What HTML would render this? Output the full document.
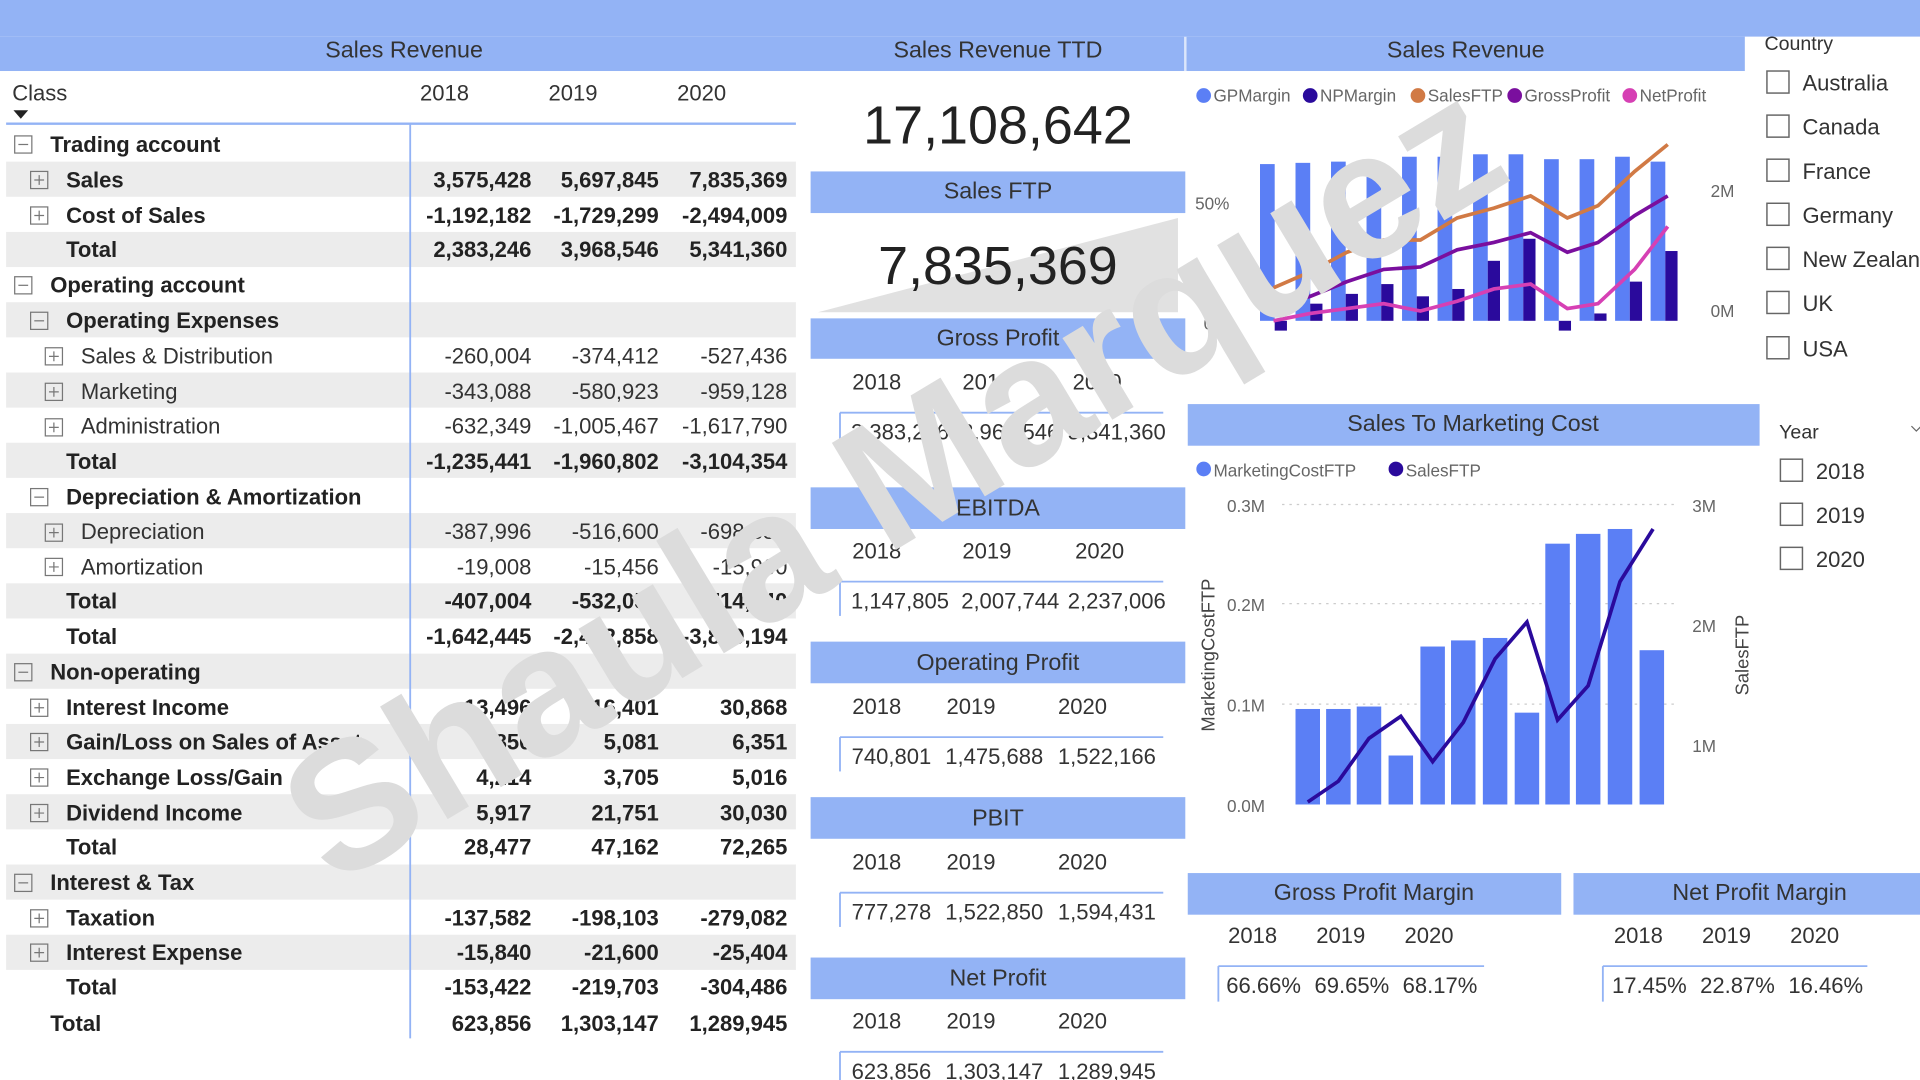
<!DOCTYPE html>
<html><head><meta charset="utf-8"><style>
html,body{margin:0;padding:0;background:#fff;overflow:hidden}
svg{display:block}
text{font-family:"Liberation Sans",sans-serif}
</style></head><body>
<svg width="1920" height="1080" viewBox="0 0 1568 882" xmlns="http://www.w3.org/2000/svg">
<rect width="1568" height="882" fill="#fff"/>
<rect x="0" y="0" width="1568" height="30" fill="#93b3f5"/>
<rect x="0" y="30" width="1425" height="28" fill="#93b3f5"/>
<rect x="1425" y="30" width="143" height="852" fill="#fff"/>
<line x1="968" y1="30" x2="968" y2="58" stroke="#dce6fb" stroke-width="2"/>
<g font-size="19" fill="#333" text-anchor="middle">
<text x="330" y="47">Sales Revenue</text>
<text x="815" y="47">Sales Revenue TTD</text>
<text x="1197" y="47">Sales Revenue</text>
</g>

<g font-size="18" fill="#333">
<text x="10" y="82">Class</text>
<text x="363" y="82" text-anchor="middle">2018</text>
<text x="468" y="82" text-anchor="middle">2019</text>
<text x="573" y="82" text-anchor="middle">2020</text>
</g>
<path d="M11 90 h12 l-6 7z" fill="#222"/>
<line x1="5" y1="101" x2="650" y2="101" stroke="#93b3f5" stroke-width="2"/>
<g fill="#ececec">
<rect x="5" y="132" width="645" height="28.7"/>
<rect x="5" y="189.4" width="645" height="28.7"/>
<rect x="5" y="246.8" width="645" height="28.7"/>
<rect x="5" y="304.2" width="645" height="28.7"/>
<rect x="5" y="361.6" width="645" height="28.7"/>
<rect x="5" y="419" width="645" height="28.7"/>
<rect x="5" y="476.4" width="645" height="28.7"/>
<rect x="5" y="533.8" width="645" height="28.7"/>
<rect x="5" y="591.2" width="645" height="28.7"/>
<rect x="5" y="648.6" width="645" height="28.7"/>
<rect x="5" y="706" width="645" height="28.7"/>
<rect x="5" y="763.4" width="645" height="28.7"/>
</g>
<line x1="335" y1="101" x2="335" y2="848" stroke="#93b3f5" stroke-width="1.5"/>
<g fill="none" stroke="#777" stroke-width="1">
<rect x="12" y="111" width="14" height="14"/><path d="M15 118h8"/>
<rect x="25" y="140" width="14" height="14"/><path d="M28 147h8M32 143v8"/>
<rect x="25" y="169" width="14" height="14"/><path d="M28 176h8M32 172v8"/>
<rect x="12" y="226" width="14" height="14"/><path d="M15 233h8"/>
<rect x="25" y="255" width="14" height="14"/><path d="M28 262h8"/>
<rect x="37" y="284" width="14" height="14"/><path d="M40 291h8M44 287v8"/>
<rect x="37" y="313" width="14" height="14"/><path d="M40 320h8M44 316v8"/>
<rect x="37" y="342" width="14" height="14"/><path d="M40 349h8M44 345v8"/>
<rect x="25" y="399" width="14" height="14"/><path d="M28 406h8"/>
<rect x="37" y="428" width="14" height="14"/><path d="M40 435h8M44 431v8"/>
<rect x="37" y="456" width="14" height="14"/><path d="M40 463h8M44 459v8"/>
<rect x="12" y="542" width="14" height="14"/><path d="M15 549h8"/>
<rect x="25" y="571" width="14" height="14"/><path d="M28 578h8M32 574v8"/>
<rect x="25" y="599" width="14" height="14"/><path d="M28 606h8M32 602v8"/>
<rect x="25" y="628" width="14" height="14"/><path d="M28 635h8M32 631v8"/>
<rect x="25" y="657" width="14" height="14"/><path d="M28 664h8M32 660v8"/>
<rect x="12" y="714" width="14" height="14"/><path d="M15 721h8"/>
<rect x="25" y="743" width="14" height="14"/><path d="M28 750h8M32 746v8"/>
<rect x="25" y="771" width="14" height="14"/><path d="M28 778h8M32 774v8"/>
</g>
<g font-size="18" fill="#222" font-weight="bold">
<text x="41" y="124">Trading account</text>
<text x="54" y="153">Sales</text>
<text x="54" y="182">Cost of Sales</text>
<text x="54" y="210">Total</text>
<text x="41" y="239">Operating account</text>
<text x="54" y="268">Operating Expenses</text>
<text x="54" y="383">Total</text>
<text x="54" y="412">Depreciation &amp; Amortization</text>
<text x="54" y="497">Total</text>
<text x="54" y="526">Total</text>
<text x="41" y="555">Non-operating</text>
<text x="54" y="584">Interest Income</text>
<text x="54" y="612">Gain/Loss on Sales of Asset</text>
<text x="54" y="641">Exchange Loss/Gain</text>
<text x="54" y="670">Dividend Income</text>
<text x="54" y="698">Total</text>
<text x="41" y="727">Interest &amp; Tax</text>
<text x="54" y="756">Taxation</text>
<text x="54" y="784">Interest Expense</text>
<text x="54" y="812">Total</text>
<text x="41" y="842">Total</text>
</g>
<g font-size="18" fill="#333">
<text x="66" y="297">Sales &amp; Distribution</text>
<text x="66" y="326">Marketing</text>
<text x="66" y="354">Administration</text>
<text x="66" y="440">Depreciation</text>
<text x="66" y="469">Amortization</text>
</g>
<g font-size="18" fill="#222" font-weight="bold" text-anchor="end">
<text x="434" y="153">3,575,428</text><text x="538" y="153">5,697,845</text><text x="643" y="153">7,835,369</text>
<text x="434" y="182">-1,192,182</text><text x="538" y="182">-1,729,299</text><text x="643" y="182">-2,494,009</text>
<text x="434" y="210">2,383,246</text><text x="538" y="210">3,968,546</text><text x="643" y="210">5,341,360</text>
<text x="434" y="383">-1,235,441</text><text x="538" y="383">-1,960,802</text><text x="643" y="383">-3,104,354</text>
<text x="434" y="497">-407,004</text><text x="538" y="497">-532,056</text><text x="643" y="497">-714,840</text>
<text x="434" y="526">-1,642,445</text><text x="538" y="526">-2,492,858</text><text x="643" y="526">-3,819,194</text>
<text x="434" y="584">13,496</text><text x="538" y="584">16,401</text><text x="643" y="584">30,868</text>
<text x="434" y="612">4,850</text><text x="538" y="612">5,081</text><text x="643" y="612">6,351</text>
<text x="434" y="641">4,214</text><text x="538" y="641">3,705</text><text x="643" y="641">5,016</text>
<text x="434" y="670">5,917</text><text x="538" y="670">21,751</text><text x="643" y="670">30,030</text>
<text x="434" y="698">28,477</text><text x="538" y="698">47,162</text><text x="643" y="698">72,265</text>
<text x="434" y="756">-137,582</text><text x="538" y="756">-198,103</text><text x="643" y="756">-279,082</text>
<text x="434" y="784">-15,840</text><text x="538" y="784">-21,600</text><text x="643" y="784">-25,404</text>
<text x="434" y="812">-153,422</text><text x="538" y="812">-219,703</text><text x="643" y="812">-304,486</text>
<text x="434" y="842">623,856</text><text x="538" y="842">1,303,147</text><text x="643" y="842">1,289,945</text>
</g>
<g font-size="18" fill="#333" text-anchor="end">
<text x="434" y="297">-260,004</text><text x="538" y="297">-374,412</text><text x="643" y="297">-527,436</text>
<text x="434" y="326">-343,088</text><text x="538" y="326">-580,923</text><text x="643" y="326">-959,128</text>
<text x="434" y="354">-632,349</text><text x="538" y="354">-1,005,467</text><text x="643" y="354">-1,617,790</text>
<text x="434" y="440">-387,996</text><text x="538" y="440">-516,600</text><text x="643" y="440">-698,880</text>
<text x="434" y="469">-19,008</text><text x="538" y="469">-15,456</text><text x="643" y="469">-15,960</text>
</g>

<text x="815" y="117" font-size="44" fill="#222" text-anchor="middle">17,108,642</text>
<rect x="662" y="140" width="306" height="34" fill="#93b3f5"/>
<text x="815" y="162" font-size="19" fill="#333" text-anchor="middle">Sales FTP</text>
<polygon points="668,255 962,178 962,255" fill="#e1e1e1"/>
<text x="815" y="232" font-size="44" fill="#222" text-anchor="middle">7,835,369</text>
<g fill="#93b3f5">
<rect x="662" y="260" width="306" height="33"/>
<rect x="662" y="398" width="306" height="34"/>
<rect x="662" y="524" width="306" height="34"/>
<rect x="662" y="651" width="306" height="34"/>
<rect x="662" y="782" width="306" height="34"/>
<rect x="970" y="330" width="467" height="34"/>
<rect x="970" y="713" width="305" height="34"/>
<rect x="1285" y="713" width="283" height="34"/>
</g>
<g font-size="19" fill="#333" text-anchor="middle">
<text x="815" y="282">Gross Profit</text>
<text x="815" y="421">EBITDA</text>
<text x="815" y="547">Operating Profit</text>
<text x="815" y="674">PBIT</text>
<text x="815" y="805">Net Profit</text>
<text x="1203" y="352">Sales To Marketing Cost</text>
<text x="1122" y="735">Gross Profit Margin</text>
<text x="1437" y="735">Net Profit Margin</text>
</g>
<g stroke="#93b3f5" stroke-width="1.5">
<line x1="686" y1="337" x2="950" y2="337"/><line x1="686" y1="337" x2="686" y2="365"/>
<line x1="686" y1="475" x2="950" y2="475"/><line x1="686" y1="475" x2="686" y2="503"/>
<line x1="686" y1="602" x2="950" y2="602"/><line x1="686" y1="602" x2="686" y2="630"/>
<line x1="686" y1="729" x2="950" y2="729"/><line x1="686" y1="729" x2="686" y2="757"/>
<line x1="686" y1="859" x2="950" y2="859"/><line x1="686" y1="859" x2="686" y2="882"/>
<line x1="995" y1="789" x2="1212" y2="789"/><line x1="995" y1="789" x2="995" y2="818"/>
<line x1="1309" y1="789" x2="1525" y2="789"/><line x1="1309" y1="789" x2="1309" y2="818"/>
</g>
<g font-size="18" fill="#333" text-anchor="middle">
<text x="716" y="318">2018</text><text x="806" y="318">2019</text><text x="896" y="318">2020</text>
<text x="735" y="359">2,383,246</text><text x="825" y="359">3,968,546</text><text x="912" y="359">5,341,360</text>
<text x="716" y="456">2018</text><text x="806" y="456">2019</text><text x="898" y="456">2020</text>
<text x="735" y="497">1,147,805</text><text x="825" y="497">2,007,744</text><text x="912" y="497">2,237,006</text>
<text x="716" y="583">2018</text><text x="793" y="583">2019</text><text x="884" y="583">2020</text>
<text x="728" y="624">740,801</text><text x="812" y="624">1,475,688</text><text x="904" y="624">1,522,166</text>
<text x="716" y="710">2018</text><text x="793" y="710">2019</text><text x="884" y="710">2020</text>
<text x="728" y="751">777,278</text><text x="812" y="751">1,522,850</text><text x="904" y="751">1,594,431</text>
<text x="716" y="840">2018</text><text x="793" y="840">2019</text><text x="884" y="840">2020</text>
<text x="728" y="881">623,856</text><text x="812" y="881">1,303,147</text><text x="904" y="881">1,289,945</text>
<text x="1023" y="770">2018</text><text x="1095" y="770">2019</text><text x="1167" y="770">2020</text>
<text x="1032" y="811">66.66%</text><text x="1104" y="811">69.65%</text><text x="1176" y="811">68.17%</text>
<text x="1338" y="770">2018</text><text x="1410" y="770">2019</text><text x="1482" y="770">2020</text>
<text x="1347" y="811">17.45%</text><text x="1419" y="811">22.87%</text><text x="1491" y="811">16.46%</text>
</g>

<g font-size="14" fill="#666">
<circle cx="983" cy="78" r="6" fill="#5b7ff5"/><text x="991" y="83">GPMargin</text>
<circle cx="1070" cy="78" r="6" fill="#2a0a9c"/><text x="1078" y="83">NPMargin</text>
<circle cx="1158" cy="78" r="6" fill="#d17a45"/><text x="1166" y="83">SalesFTP</text>
<circle cx="1237" cy="78" r="6" fill="#7a0f9e"/><text x="1245" y="83">GrossProfit</text>
<circle cx="1331" cy="78" r="6" fill="#d640b4"/><text x="1339" y="83">NetProfit</text>
<text x="976" y="171">50%</text><text x="983" y="269">0%</text>
<text x="1397" y="161">2M</text><text x="1397" y="259">0M</text>
</g>
<g fill="#5b7ff5">
<rect x="1029" y="134" width="12" height="128"/><rect x="1058" y="133" width="12" height="129"/>
<rect x="1087" y="132" width="12" height="130"/><rect x="1116" y="132" width="12" height="130"/>
<rect x="1145" y="128" width="12" height="134"/><rect x="1174" y="128" width="12" height="134"/>
<rect x="1203" y="126" width="12" height="136"/><rect x="1232" y="126" width="12" height="136"/>
<rect x="1261" y="130" width="12" height="132"/><rect x="1290" y="130" width="12" height="132"/>
<rect x="1319" y="128" width="12" height="134"/><rect x="1348" y="132" width="12" height="130"/>
</g>
<g fill="#2a0a9c">
<rect x="1041" y="262" width="10" height="8"/><rect x="1070" y="248" width="10" height="14"/>
<rect x="1099" y="240" width="10" height="22"/><rect x="1128" y="232" width="10" height="30"/>
<rect x="1157" y="242" width="10" height="20"/><rect x="1186" y="236" width="10" height="26"/>
<rect x="1215" y="213" width="10" height="49"/><rect x="1244" y="195" width="10" height="67"/>
<rect x="1273" y="262" width="10" height="8"/><rect x="1302" y="256" width="10" height="6"/>
<rect x="1331" y="230" width="10" height="32"/><rect x="1360" y="205" width="10" height="57"/>
</g>
<polyline fill="none" stroke="#d17a45" stroke-width="3" points="1040,235 1070,222 1100,206 1130,196 1160,196 1190,178 1220,170 1250,160 1280,178 1305,168 1335,140 1362,118"/>
<polyline fill="none" stroke="#7a0f9e" stroke-width="3" points="1040,250 1070,242 1100,230 1130,220 1160,218 1190,204 1220,198 1250,190 1280,206 1305,198 1335,176 1362,160"/>
<polyline fill="none" stroke="#d640b4" stroke-width="3" points="1040,262 1070,256 1100,252 1130,248 1160,254 1190,246 1220,236 1250,232 1280,252 1305,248 1335,220 1362,185"/>

<g font-size="14" fill="#666">
<circle cx="983" cy="383" r="6" fill="#5b7ff5"/><text x="991" y="389">MarketingCostFTP</text>
<circle cx="1140" cy="383" r="6" fill="#2a0a9c"/><text x="1148" y="389">SalesFTP</text>
<text x="1002" y="418">0.3M</text><text x="1002" y="499">0.2M</text>
<text x="1002" y="581">0.1M</text><text x="1002" y="663">0.0M</text>
<text x="1382" y="418">3M</text><text x="1382" y="516">2M</text><text x="1382" y="614">1M</text>
<text transform="translate(992,535) rotate(-90)" text-anchor="middle" font-size="15" fill="#444">MarketingCostFTP</text>
<text transform="translate(1428,535) rotate(-90)" text-anchor="middle" font-size="15" fill="#444">SalesFTP</text>
</g>
<g stroke="#ccc" stroke-dasharray="2,4" stroke-width="1">
<line x1="1047" y1="412" x2="1368" y2="412"/><line x1="1047" y1="493" x2="1368" y2="493"/>
<line x1="1047" y1="575" x2="1368" y2="575"/>
</g>
<g fill="#5b7ff5">
<rect x="1058" y="579" width="20" height="78"/><rect x="1083" y="579" width="20" height="78"/>
<rect x="1108" y="577" width="20" height="80"/><rect x="1134" y="617" width="20" height="40"/>
<rect x="1160" y="528" width="20" height="129"/><rect x="1185" y="523" width="20" height="134"/>
<rect x="1211" y="521" width="20" height="136"/><rect x="1237" y="582" width="20" height="75"/>
<rect x="1262" y="444" width="20" height="213"/><rect x="1287" y="436" width="20" height="221"/>
<rect x="1313" y="432" width="20" height="225"/><rect x="1339" y="531" width="20" height="126"/>
</g>
<polyline fill="none" stroke="#2a0a9c" stroke-width="3" points="1068,655 1093,638 1118,603 1144,585 1170,622 1195,590 1221,538 1247,508 1272,588 1297,560 1323,475 1350,432"/>

<g font-size="18" fill="#333">
<text x="1441" y="41" font-size="16">Country</text>
<text x="1472" y="74">Australia</text><text x="1472" y="110">Canada</text>
<text x="1472" y="146">France</text><text x="1472" y="182">Germany</text>
<text x="1472" y="218">New Zealand</text><text x="1472" y="254">UK</text>
<text x="1472" y="291">USA</text>
<text x="1453" y="358" font-size="16">Year</text>
<text x="1483" y="391">2018</text><text x="1483" y="427">2019</text><text x="1483" y="463">2020</text>
</g>
<g fill="#fff" stroke="#666" stroke-width="1.2">
<rect x="1443" y="58" width="18" height="18"/><rect x="1443" y="94" width="18" height="18"/>
<rect x="1443" y="130" width="18" height="18"/><rect x="1443" y="166" width="18" height="18"/>
<rect x="1443" y="202" width="18" height="18"/><rect x="1443" y="238" width="18" height="18"/>
<rect x="1443" y="275" width="18" height="18"/>
<rect x="1454" y="375" width="18" height="18"/><rect x="1454" y="411" width="18" height="18"/>
<rect x="1454" y="447" width="18" height="18"/>
</g>
<path d="M1561 348 l4 4 l4 -4" fill="none" stroke="#666"/>

<text transform="translate(755,435) rotate(-31)" text-anchor="middle" font-size="148" font-weight="bold" fill="#dcdcdc">Shaula Marquez</text>
</svg>
</body></html>
